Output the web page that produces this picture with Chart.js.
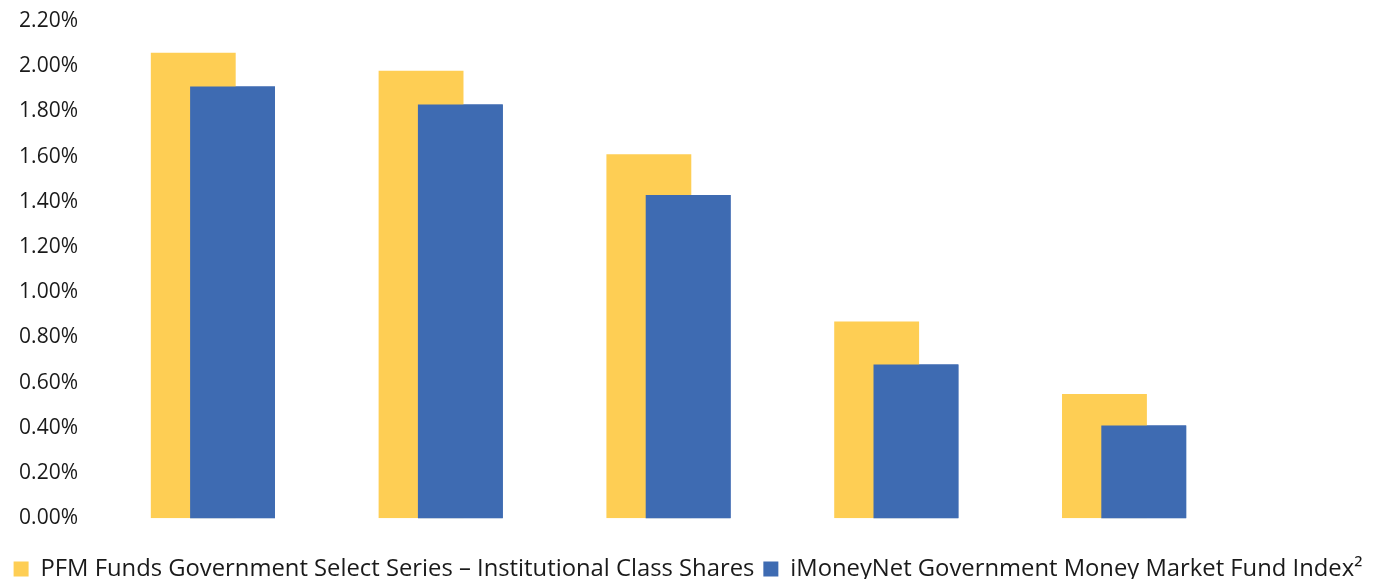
<!DOCTYPE html>
<html>
<head>
<meta charset="utf-8">
<script src="https://cdn.jsdelivr.net/npm/chart.js@4/dist/chart.umd.min.js"></script>
<style>
	html, body { margin: 0; padding: 0; background: #fff; }
	#wrap { width: 1376px; height: 579px; }
</style>
</head>
<body>
<div id="wrap"><canvas id="chart"></canvas></div>
<script>
const categories = ["1", "2", "3", "4", "5"];
const pfmValues = [2.06, 1.98, 1.61, 0.87, 0.55];
const indexValues = [1.91, 1.83, 1.43, 0.68, 0.41];
const seriesNames = [
	"PFM Funds Government Select Series \u2013 Institutional Class Shares",
	"iMoneyNet Government Money Market Fund Index\u00B2",
];
const yMin = 0;
const yMax = 2.2;
const yStep = 0.2;

// blue bars sit in front of the yellow ones, so paint them once more on top
const blueOnTop = {
	id: "blueOnTop",
	afterDatasetsDraw(chart) {
		const meta = chart.getDatasetMeta(1);
		if (!meta.hidden) {
			chart.ctx.save();
			meta.controller.draw();
			chart.ctx.restore();
		}
	},
};

const config = {
	type: "bar",
	plugins: [blueOnTop],
	data: {
		labels: categories,
		datasets: [
			{
				label: seriesNames[0],
				data: pfmValues,
				backgroundColor: "#FECE54",
				categoryPercentage: 0.345,
				barPercentage: 2.16,
			},
			{
				label: seriesNames[1],
				data: indexValues,
				backgroundColor: "#3E6BB2",
				categoryPercentage: 0.345,
				barPercentage: 2.16,
			},
		],
	},
	options: {
		responsive: true,
		maintainAspectRatio: false,
		animation: false,
		layout: {
			padding: { left: 0, right: 0, top: 21, bottom: -12 },
		},
		plugins: {
			tooltip: { enabled: false },
			legend: {
				position: "bottom",
				labels: {
					color: "#1a1a1a",
					font: { family: "Open Sans", size: 23.8 },
					boxWidth: 15,
					boxHeight: 15,
					padding: 9,
				},
			},
		},
		scales: {
			x: {
				grid: { display: false },
				border: { display: false },
				ticks: { display: false },
				afterFit: s => { s.height = 30; },
			},
			y: {
				min: yMin,
				max: yMax,
				grid: { display: false },
				border: { display: false },
				ticks: {
					stepSize: yStep,
					padding: 13,
					color: "#1a1a1a",
					font: { family: "Open Sans", size: 21 },
					callback: v => v.toFixed(2) + "%",
				},
				afterFit: s => {
					s.width = 99;
					s.paddingTop = 0;
					s.paddingBottom = 0;
				},
			},
			// empty strip on the right, as in the original
			yRight: {
				position: "right",
				grid: { display: false },
				border: { display: false },
				ticks: { display: false },
				afterFit: s => { s.width = 138; },
			},
		},
	},
};

new Chart(document.getElementById("chart"), config);
</script>
</body>
</html>
